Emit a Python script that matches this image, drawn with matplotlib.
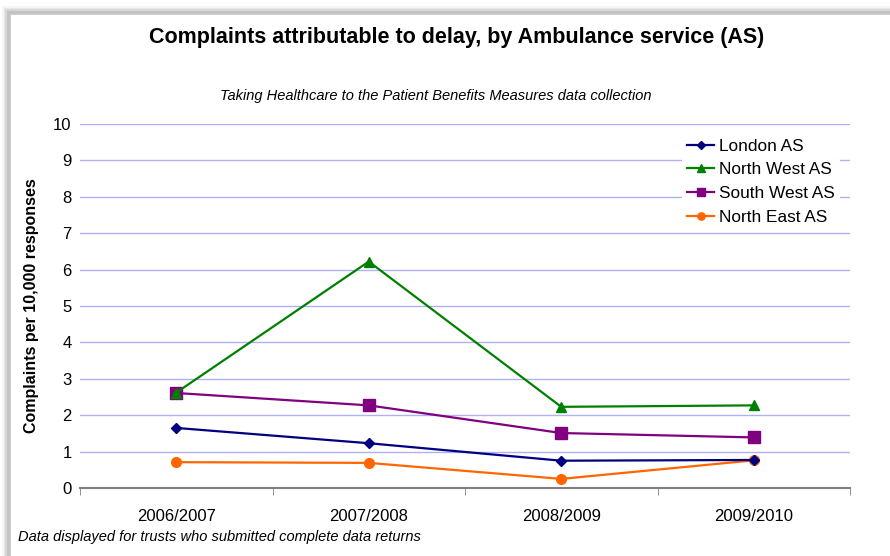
import matplotlib
matplotlib.use("Agg")
import matplotlib.pyplot as plt
from matplotlib.patches import Rectangle

plt.rcParams['font.family'] = ['Liberation Sans', 'DejaVu Sans']

categories = ["2006/2007", "2007/2008", "2008/2009", "2009/2010"]
london = [1.65, 1.23, 0.75, 0.77]
north_west = [2.62, 6.22, 2.23, 2.27]
south_west = [2.61, 2.27, 1.51, 1.39]
north_east = [0.71, 0.69, 0.25, 0.76]

fig = plt.figure(figsize=(8.9, 5.56), dpi=100)
fig.patch.set_facecolor('white')

# frame with shadow
for i, a in enumerate([0.04, 0.05, 0.07, 0.09]):
    off = (4 - i) * 1.5
    fig.patches.append(Rectangle(((8 - off) / 890, -0.1), 1.2, (556 - 12 + off) / 556 + 0.1,
                                 transform=fig.transFigure, facecolor='black', alpha=a,
                                 edgecolor='none', zorder=0))
fig.patches.append(Rectangle((10 / 890, -0.1), 1.2, (556 - 14) / 556 + 0.1,
                             transform=fig.transFigure, facecolor='white',
                             edgecolor='#d0d0d0', linewidth=0.8, zorder=1))

ax = fig.add_axes([80 / 890, (556 - 488) / 556, 770 / 890, (488 - 124) / 556])
ax.set_zorder(2)
ax.patch.set_alpha(0)
x = list(range(len(categories)))

ax.plot(x, london, color='#000080', marker='D', markersize=5, linewidth=1.6, label='London AS', zorder=5)
ax.plot(x, north_west, color='#008000', marker='^', markersize=7.5, linewidth=1.6, label='North West AS', zorder=4)
ax.plot(x, south_west, color='#800080', marker='s', markersize=8.5, linewidth=1.6, label='South West AS', zorder=3)
ax.plot(x, north_east, color='#FF6600', marker='o', markersize=7, linewidth=1.6, label='North East AS', zorder=2)

ax.set_xlim(-0.5, 3.5)
ax.set_ylim(0, 10)
ax.set_yticks(range(0, 11))
ax.set_xticks(x)
ax.set_xticklabels(categories, fontsize=12)
ax.set_xticks([-0.5, 0.5, 1.5, 2.5, 3.5], minor=True)
ax.tick_params(axis='x', which='major', length=0, pad=15)
ax.tick_params(axis='x', which='minor', length=5, color='#808080', direction='out')
ax.tick_params(axis='y', length=0, labelsize=12, pad=6)
ax.grid(axis='y', color='#b0b0f5', linewidth=1)
ax.set_axisbelow(True)
for s in ['top', 'right', 'left']:
    ax.spines[s].set_visible(False)
ax.spines['bottom'].set_color('#808080')
ax.spines['bottom'].set_linewidth(1.5)

ax.set_ylabel('Complaints per 10,000 responses', fontsize=11.5, fontweight='bold', labelpad=10)

leg = ax.legend(loc='upper left', bbox_to_anchor=(593 / 770, 1 - (125 - 124) / 364), frameon=True,
                fontsize=12.4, handlelength=1.6, handletextpad=0.25, labelspacing=0.5,
                borderpad=0.3, fancybox=False, markerscale=0.75)
leg.get_frame().set_facecolor('white')
leg.get_frame().set_edgecolor('none')
leg.get_frame().set_alpha(1)

fig.text(457 / 890, 1 - 37 / 556, 'Complaints attributable to delay, by Ambulance service (AS)',
         ha='center', va='center', fontsize=15.5, fontweight='bold', zorder=3)
fig.text(436 / 890, 1 - 96 / 556, 'Taking Healthcare to the Patient Benefits Measures data collection',
         ha='center', va='center', fontsize=10.5, style='italic', zorder=3)
fig.text(18 / 890, 1 - 537 / 556, 'Data displayed for trusts who submitted complete data returns',
         ha='left', va='center', fontsize=10.5, style='italic', zorder=3)

fig.savefig('out.png', dpi=100)
